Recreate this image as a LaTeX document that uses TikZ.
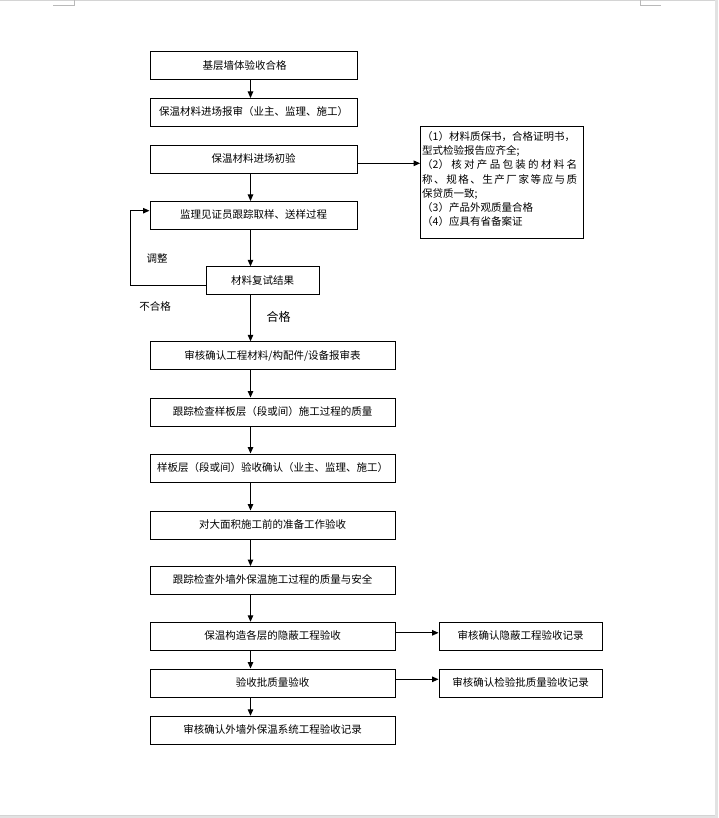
\documentclass[tikz,border=0pt]{standalone}
\usepackage{fontspec}
\setmainfont{Noto Sans CJK SC}
\usetikzlibrary{arrows.meta}
\definecolor{pagegray}{HTML}{D4D4D4}
\definecolor{edgegray}{HTML}{E2E2E2}
\begin{document}
\begin{tikzpicture}[x=1pt,y=-1pt,
  box/.style={draw, line width=1pt, inner sep=0pt, minimum height=28pt,
    font=\fontsize{10.5}{13}\selectfont, text height=8.6pt, text depth=1.9pt},
  wbox/.style={box, minimum width=207pt},
  lbox/.style={box, minimum width=245pt},
  rbox/.style={box, minimum width=163.3pt},
  arr/.style={line width=1pt, -{Triangle[length=6.5pt,width=5.5pt]}},
  lbl/.style={inner sep=0pt, font=\fontsize{10.5}{13}\selectfont},
  rline/.style={inner sep=0pt, anchor=west, font=\fontsize{10.5}{13}\selectfont}]
\useasboundingbox (0,0) rectangle (718,818);
% page edges
\fill[white] (0,0) rectangle (718,818);
\draw[pagegray, line width=1pt] (0,0.5) -- (718,0.5);
\fill[edgegray] (715,0) rectangle (718,815);
\fill[edgegray] (0,815) rectangle (718,818);
\draw[pagegray, line width=0.8pt] (0,815.2) -- (715,815.2);
\draw[gray!55, line width=0.8pt] (74.7,0) -- (74.7,5.4) -- (53.2,5.4);
\draw[gray!55, line width=0.8pt] (640,0) -- (640,5.4) -- (660.5,5.4);
% main boxes
\node[wbox] (b1) at (253.5,66) {基层墙体验收合格\rule{18pt}{0pt}};
\node[wbox] (b2) at (253.5,112.5) {保温材料进场报审（业主、监理、施工）};
\node[wbox] (b3) at (253.5,159.3) {保温材料进场初验};
\node[wbox] (b4) at (253.5,215.5) {监理见证员跟踪取样、送样过程};
\node[box, minimum width=113.3pt] (b5) at (262.7,280.8) {材料复试结果};
\node[lbox] (b6) at (272.5,355.8) {审核确认工程材料/构配件/设备报审表};
\node[lbox] (b7) at (272.5,412) {跟踪检查样板层（段或间）施工过程的质量};
\node[lbox] (b8) at (272.5,468) {样板层（段或间）验收确认（业主、监理、施工）};
\node[lbox] (b9) at (272.5,525) {对大面积施工前的准备工作验收};
\node[lbox] (b10) at (272.5,580.5) {跟踪检查外墙外保温施工过程的质量与安全};
\node[lbox] (b11) at (272.5,636.3) {保温构造各层的隐蔽工程验收};
\node[lbox] (b12) at (272.5,683) {验收批质量验收};
\node[lbox] (b13) at (272.5,730.3) {审核确认外墙外保温系统工程验收记录};
% side boxes
\node[rbox] (ra) at (520.7,636.3) {审核确认隐蔽工程验收记录};
\node[rbox] (rb) at (520.7,683.3) {审核确认检验批质量验收记录};
\node[draw, line width=1pt, minimum width=163.3pt, minimum height=112.3pt, inner sep=0pt] (rn) at (502.3,182.2) {};
\node[rline] (l1) at (422,136.5) {（1）材料质保书，合格证明书，};
\node[rline] (l2) at (422,151) {型式检验报告应齐全;};
\node[rline] (l3) at (422,165) {\makebox[155pt][l]{（2）\hfill 核\hfill 对\hfill 产\hfill 品\hfill 包\hfill 装\hfill 的\hfill 材\hfill 料\hfill 名}};
\node[rline] (l4) at (422,180) {\makebox[155pt][l]{称\hfill 、\hfill 规\hfill 格\hfill 、\hfill 生\hfill 产\hfill 厂\hfill 家\hfill 等\hfill 应\hfill 与\hfill 质}};
\node[rline] (l5) at (422,194) {保贷质一致;};
\node[rline] (l6) at (422,208) {（3）产品外观质量合格};
\node[rline] (l7) at (422,222) {（4）应具有省备案证};
% labels
\node[lbl] (t1) at (157,259) {调整};
\node[lbl] (t2) at (155,306) {不合格};
\node[lbl, font=\fontsize{12}{14}\selectfont] (t3) at (278.5,316.5) {合格};
% helper coordinates
\coordinate (ax) at (250.5,0);
\coordinate (y3) at (0,163.3);
\coordinate (lp1) at (0,285.7);
\coordinate (lp2) at (0,210.7);
\coordinate (lpx) at (130.7,0);
\coordinate (ya) at (0,632.8);
\coordinate (yb) at (0,679.3);
% connectors
\draw[arr] (b1.south -| ax) -- (b2.north -| ax);
\draw[arr] (b3.south -| ax) -- (b4.north -| ax);
\draw[arr] (b4.south -| ax) -- (b5.north -| ax);
\draw[arr] (b5.south -| ax) -- (b6.north -| ax);
\draw[arr] (b6.south -| ax) -- (b7.north -| ax);
\draw[arr] (b7.south -| ax) -- (b8.north -| ax);
\draw[arr] (b8.south -| ax) -- (b9.north -| ax);
\draw[arr] (b9.south -| ax) -- (b10.north -| ax);
\draw[arr] (b10.south -| ax) -- (b11.north -| ax);
\draw[arr] (b11.south -| ax) -- (b12.north -| ax);
\draw[arr] (b12.south -| ax) -- (b13.north -| ax);
\draw[arr] (b3.east |- y3) -- (rn.west |- y3);
\draw[arr] (b11.east |- ya) -- (ra.west |- ya);
\draw[arr] (b12.east |- yb) -- (rb.west |- yb);
\draw[arr] (b5.west |- lp1) -- (lpx |- lp1) -- (lpx |- lp2) -- (b4.west |- lp2);
\end{tikzpicture}
\end{document}
